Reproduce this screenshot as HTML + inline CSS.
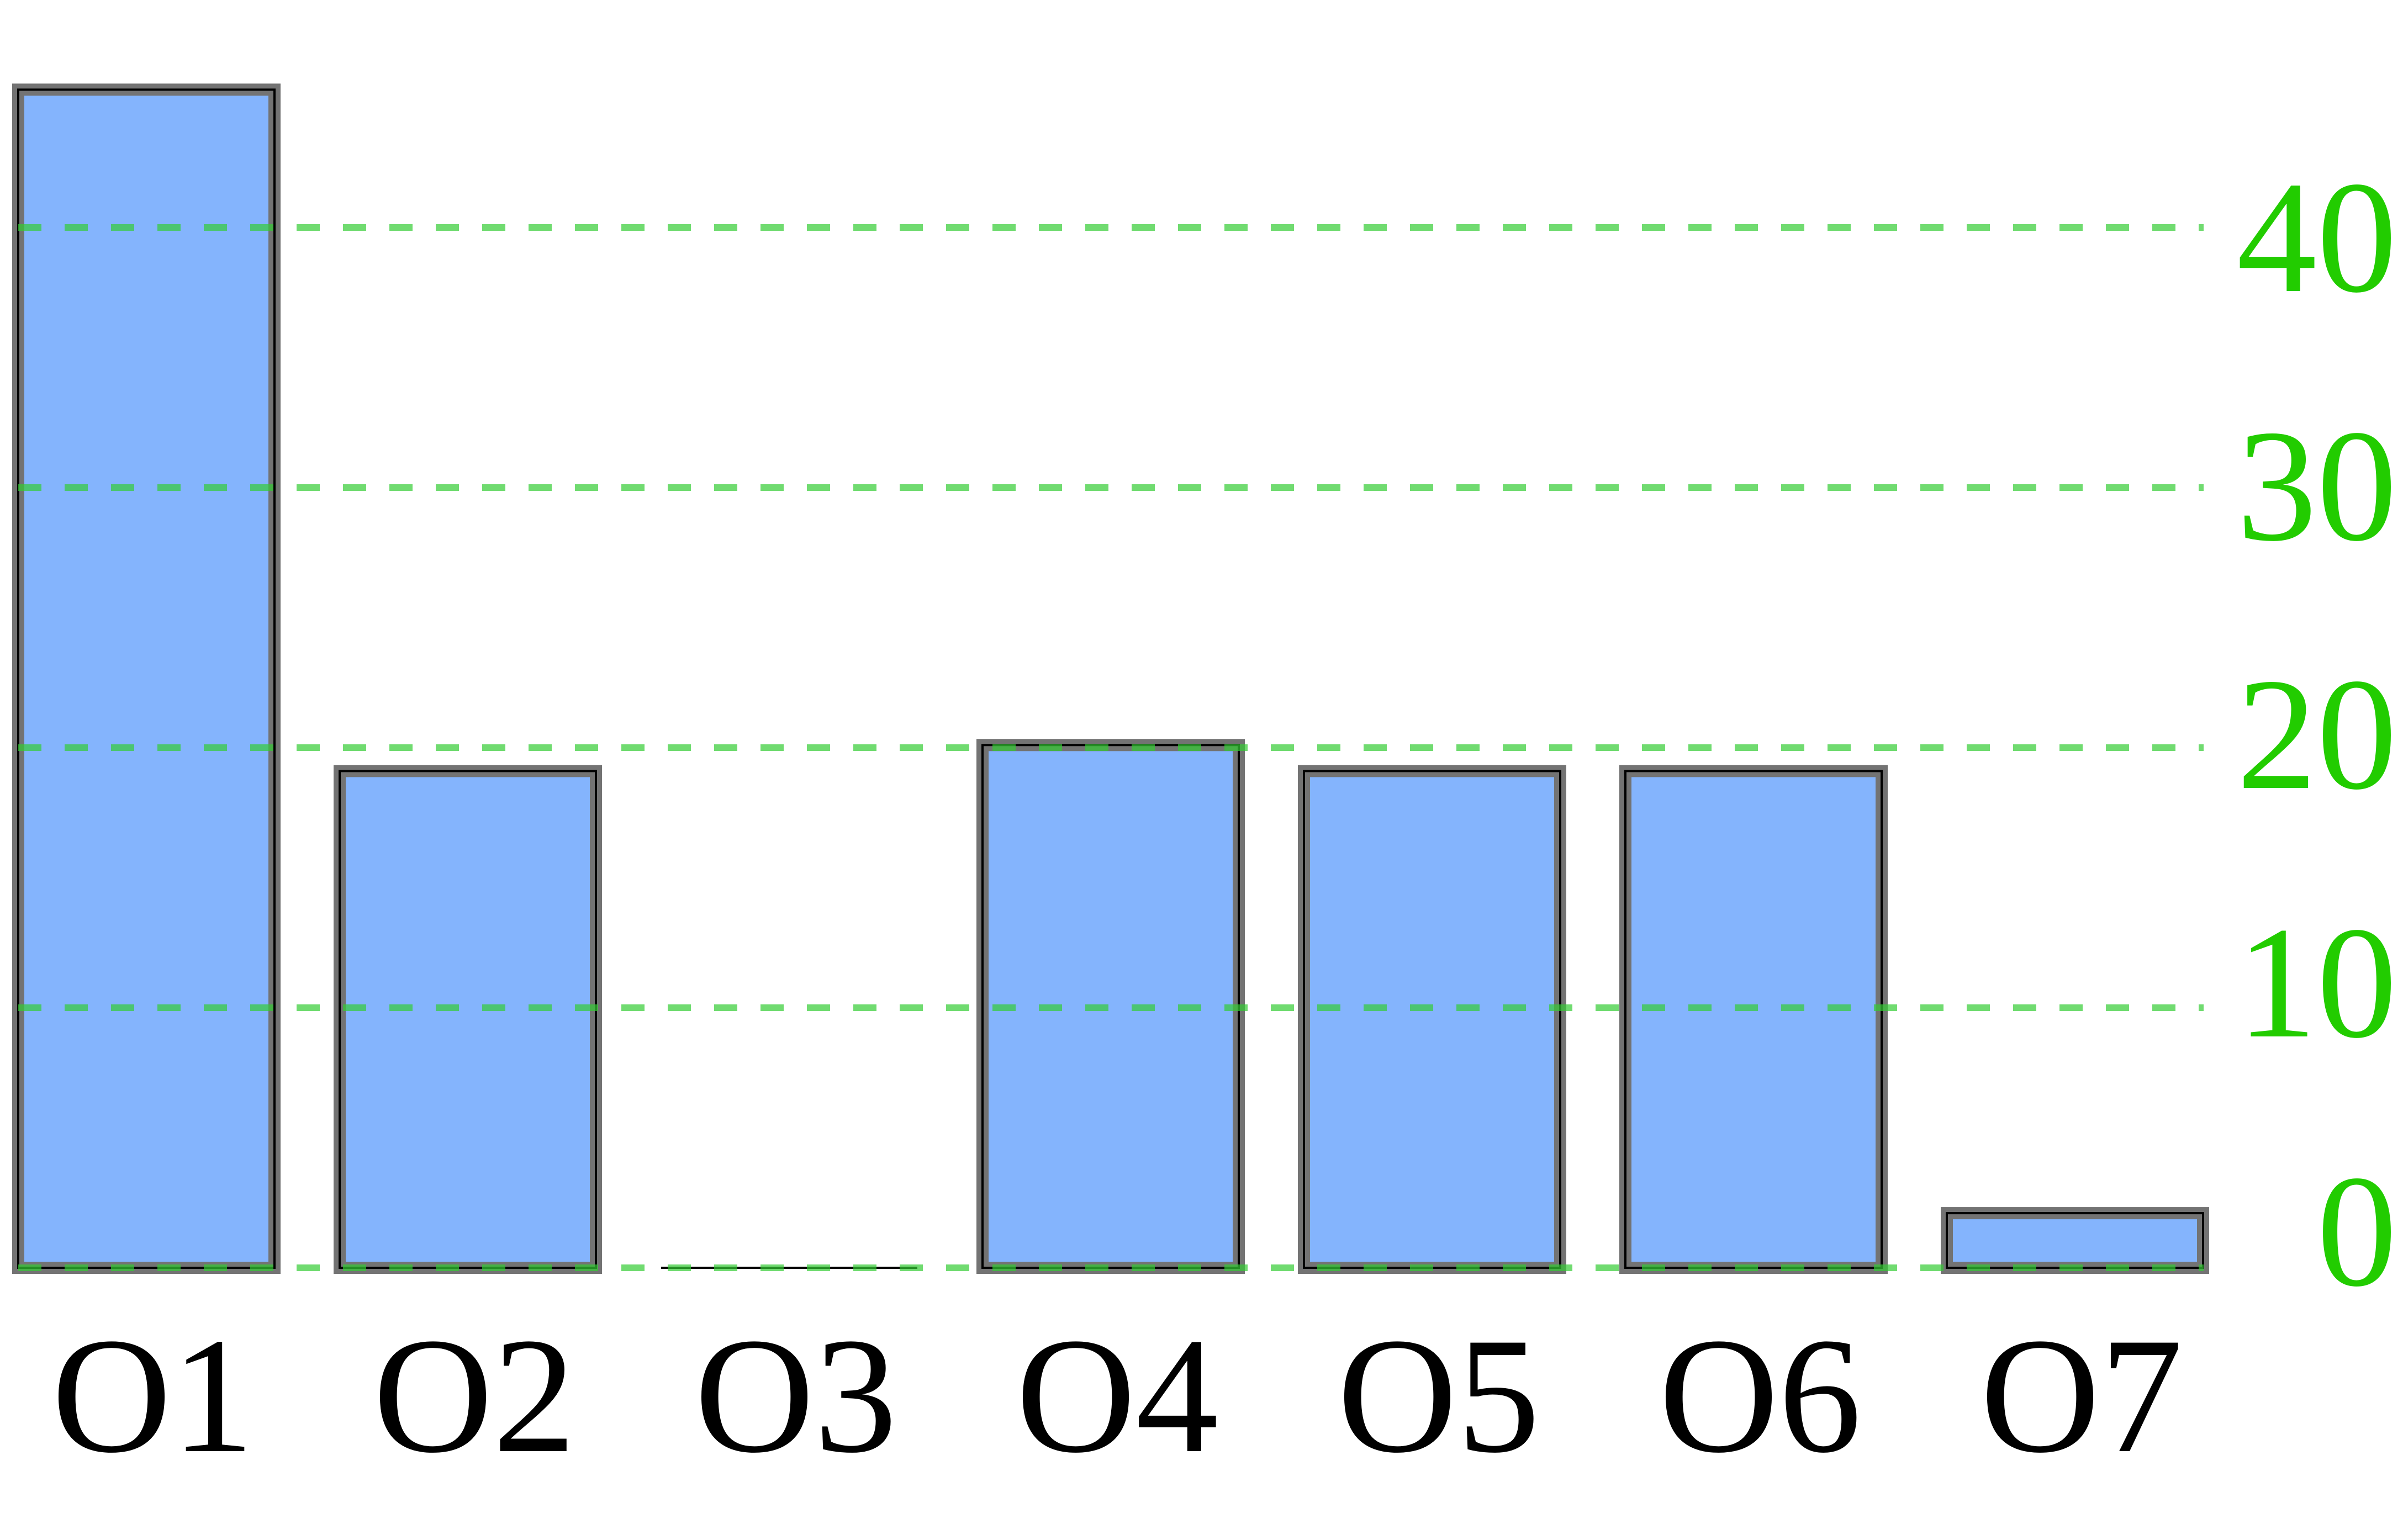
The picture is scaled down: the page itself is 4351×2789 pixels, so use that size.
<!DOCTYPE html>
<html><head><meta charset="utf-8"><style>
html,body{margin:0;padding:0;background:#fff;}
svg{display:block;}
</style></head><body>
<svg id="chart" width="4351" height="2789" viewBox="0 0 4351 2789" xmlns="http://www.w3.org/2000/svg">
<g id="bars"></g>
<g id="grid"></g>
<g id="yticks"></g>
<g id="xticks"></g>
</svg>
<script>
const categories = ["O1","O2","O3","O4","O5","O6","O7"];
const values = [45.3, 19.1, 0, 20.1, 19.1, 19.1, 2.1];
const yTicks = [0, 10, 20, 30, 40];
const yTickLabels = ["0","10","20","30","40"];

const NS = "http://www.w3.org/2000/svg";
const baseY = 2296, unit = 47.1;
const bandStart = 33, band = 582, barW = 464;
function yScale(v){ return baseY - v*unit; }
function labelY(v){ return 2231 - v*45.0; }
function xScale(i){ return bandStart + i*band; }
function mk(tag, attrs){ const e=document.createElementNS(NS,tag); for(const k in attrs) e.setAttribute(k,attrs[k]); return e; }

const bars = document.getElementById('bars');
values.forEach((v,i)=>{
  const x = xScale(i), y = yScale(v), h = baseY - y;
  if (h > 0) {
    const r = mk('rect',{x:x,y:y,width:barW,height:h,fill:'#84b4fd',stroke:'#737373','stroke-width':22});
    
    
    bars.appendChild(r);
    const b = mk('rect',{x:x,y:y,width:barW,height:h,fill:'none',stroke:'#000','stroke-width':4});
    
    
    bars.appendChild(b);
  } else {
    const l = mk('line',{x1:x,x2:x+barW,y1:y,y2:y,stroke:'#000','stroke-width':4});
    
    
    bars.appendChild(l);
  }
  const t = mk('text',{x:x+barW/2+12,y:2628,'text-anchor':'middle','font-family':'"Liberation Serif", serif','font-size':300,fill:'#000'});
  t.textContent = categories[i];
  
  
  document.getElementById('xticks').appendChild(t);
});

const grid = document.getElementById('grid');
const yt = document.getElementById('yticks');
yTicks.forEach((v,i)=>{
  const y = yScale(v);
  const l = mk('line',{x1:33,x2:3990,y1:y,y2:y,stroke:'#33cc33','stroke-opacity':0.7,'stroke-width':12,'stroke-dasharray':'42 42'});
  
  
  grid.appendChild(l);
  const t = mk('text',{x:4340,y:labelY(v)+96,'text-anchor':'end','font-family':'"Liberation Serif", serif','font-size':290,fill:'#22cc00'});
  t.textContent = yTickLabels[i];
  
  
  yt.appendChild(t);
});
</script>
</body></html>
